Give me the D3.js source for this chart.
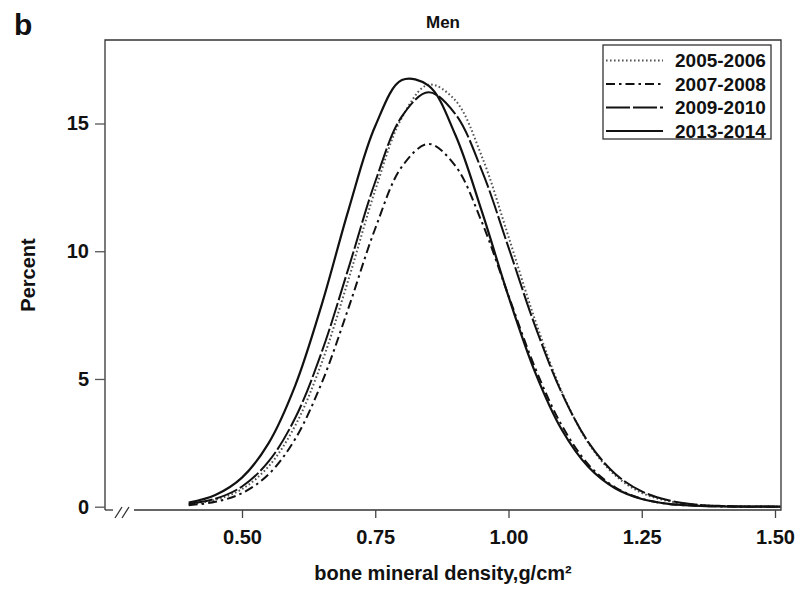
<!DOCTYPE html>
<html>
<head>
<meta charset="utf-8">
<script src="https://cdn.jsdelivr.net/npm/d3@7"></script>
<style>
  html, body { margin: 0; padding: 0; background: #fff; }
  svg text { font-family: "Liberation Sans", Arial, Helvetica, sans-serif; font-weight: bold; fill: #111; }
</style>
</head>
<body>
<svg id="chart" width="803" height="589"></svg>
<script>
// ---- data ----
const bmd = [0.40, 0.45, 0.50, 0.55, 0.60, 0.65, 0.70, 0.75, 0.80, 0.85, 0.90, 0.95,
             1.00, 1.05, 1.10, 1.15, 1.20, 1.25, 1.30, 1.35, 1.40, 1.45, 1.51];
const s2005 = [0.09, 0.27, 0.69, 1.58, 3.18, 5.66, 8.91, 12.39, 15.23, 16.52, 15.91, 13.71,
               10.57, 7.30, 4.50, 2.49, 1.23, 0.54, 0.22, 0.08, 0.02, 0.01, 0.00];
const s2007 = [0.06, 0.19, 0.53, 1.27, 2.66, 4.87, 7.79, 10.89, 13.31, 14.20, 13.35, 11.14,
               8.26, 5.43, 3.18, 1.65, 0.76, 0.31, 0.11, 0.04, 0.01, 0.00, 0.00];
const s2009 = [0.11, 0.31, 0.79, 1.77, 3.48, 6.08, 9.35, 12.72, 15.28, 16.22, 15.38, 13.16,
               10.15, 7.07, 4.45, 2.52, 1.29, 0.60, 0.25, 0.09, 0.03, 0.01, 0.00];
const s2013 = [0.16, 0.46, 1.14, 2.49, 4.75, 7.94, 11.63, 14.90, 16.70, 16.48, 14.57, 11.56,
               8.23, 5.26, 3.01, 1.55, 0.72, 0.30, 0.11, 0.04, 0.01, 0.00, 0.00];
const seriesNames = ["2005-2006", "2007-2008", "2009-2010", "2013-2014"];
const xTicks = [0.50, 0.75, 1.00, 1.25, 1.50];
const yTicks = [0, 5, 10, 15];

const seriesValues = [s2005, s2007, s2009, s2013];
const styles = [
  { stroke: "#555", width: 2.0, dash: "1.6,2.4" },
  { stroke: "#111", width: 2.0, dash: "9,4,2.5,4" },
  { stroke: "#111", width: 2.0, dash: "24,3" },
  { stroke: "#111", width: 2.2, dash: null }
];

// ---- layout ----
const L = 105, R = 781, T = 40, B = 510;
const svg = d3.select("#chart");

const x = d3.scaleLinear().domain([0.5, 1.5]).range([242, 775]);
const y = d3.scaleLinear().domain([0, 15]).range([506.7, 123.5]);

// frame
const frame = svg.append("g").attr("fill", "none").attr("stroke", "#333").attr("stroke-width", 1.3);
frame.append("path").attr("d", `M${L},${B} L${L},${T} L${R},${T} L${R},${B} L134,${B}`);
frame.append("path").attr("d", `M${L},${B} L113,${B}`);
// axis break marks
frame.append("path").attr("d", "M115,518 L122,507 M122,518 L129,507");

// x axis
const xAxis = d3.axisBottom(x).tickValues(xTicks).tickFormat(d3.format(".2f"))
  .tickSize(8).tickPadding(12);
const gx = svg.append("g").attr("transform", `translate(0,${B})`).call(xAxis);
gx.select(".domain").remove();
gx.selectAll(".tick line").attr("stroke", "#444").attr("stroke-width", 1.3);
gx.selectAll(".tick text").style("font-size", "20px").attr("fill", "#111");

// y axis
const yAxis = d3.axisLeft(y).tickValues(yTicks).tickSize(10).tickPadding(6);
const gy = svg.append("g").attr("transform", `translate(${L},0)`).call(yAxis);
gy.select(".domain").remove();
gy.selectAll(".tick line").attr("stroke", "#555").attr("stroke-width", 1.3);
gy.selectAll(".tick text").style("font-size", "20px").attr("fill", "#111");

// curves
const line = d3.line()
  .x((d, i) => x(bmd[i]))
  .y(d => y(Math.max(0, d)))
  .curve(d3.curveCatmullRom.alpha(0.5));

svg.append("g").selectAll("path").data(seriesValues).join("path")
  .attr("d", d => line(d))
  .attr("fill", "none")
  .attr("stroke", (d, i) => styles[i].stroke)
  .attr("stroke-width", (d, i) => styles[i].width)
  .attr("stroke-dasharray", (d, i) => styles[i].dash);

// legend
const lg = svg.append("g");
lg.append("rect").attr("x", 603).attr("y", 45).attr("width", 168).attr("height", 94)
  .attr("fill", "#fff").attr("stroke", "#333").attr("stroke-width", 1.3);
const rowY = [60.5, 84, 107.5, 131];
seriesNames.forEach((name, i) => {
  lg.append("line").attr("x1", 606).attr("x2", 663).attr("y1", rowY[i]).attr("y2", rowY[i])
    .attr("stroke", styles[i].stroke).attr("stroke-width", styles[i].width)
    .attr("stroke-dasharray", styles[i].dash);
  lg.append("text").attr("x", 675).attr("y", rowY[i]).attr("dy", "0.36em")
    .style("font-size", "19px").text(name);
});

// titles
svg.append("text").attr("x", 443).attr("y", 28).attr("text-anchor", "middle")
  .style("font-size", "17px").text("Men");
svg.append("text").attr("x", 443).attr("y", 580).attr("text-anchor", "middle")
  .style("font-size", "20px").text("bone mineral density,g/cm²");
svg.append("text").attr("transform", "translate(35,275) rotate(-90)").attr("text-anchor", "middle")
  .style("font-size", "20px").text("Percent");
svg.append("text").attr("x", 14).attr("y", 35).style("font-size", "30px").text("b");
</script>
</body>
</html>
